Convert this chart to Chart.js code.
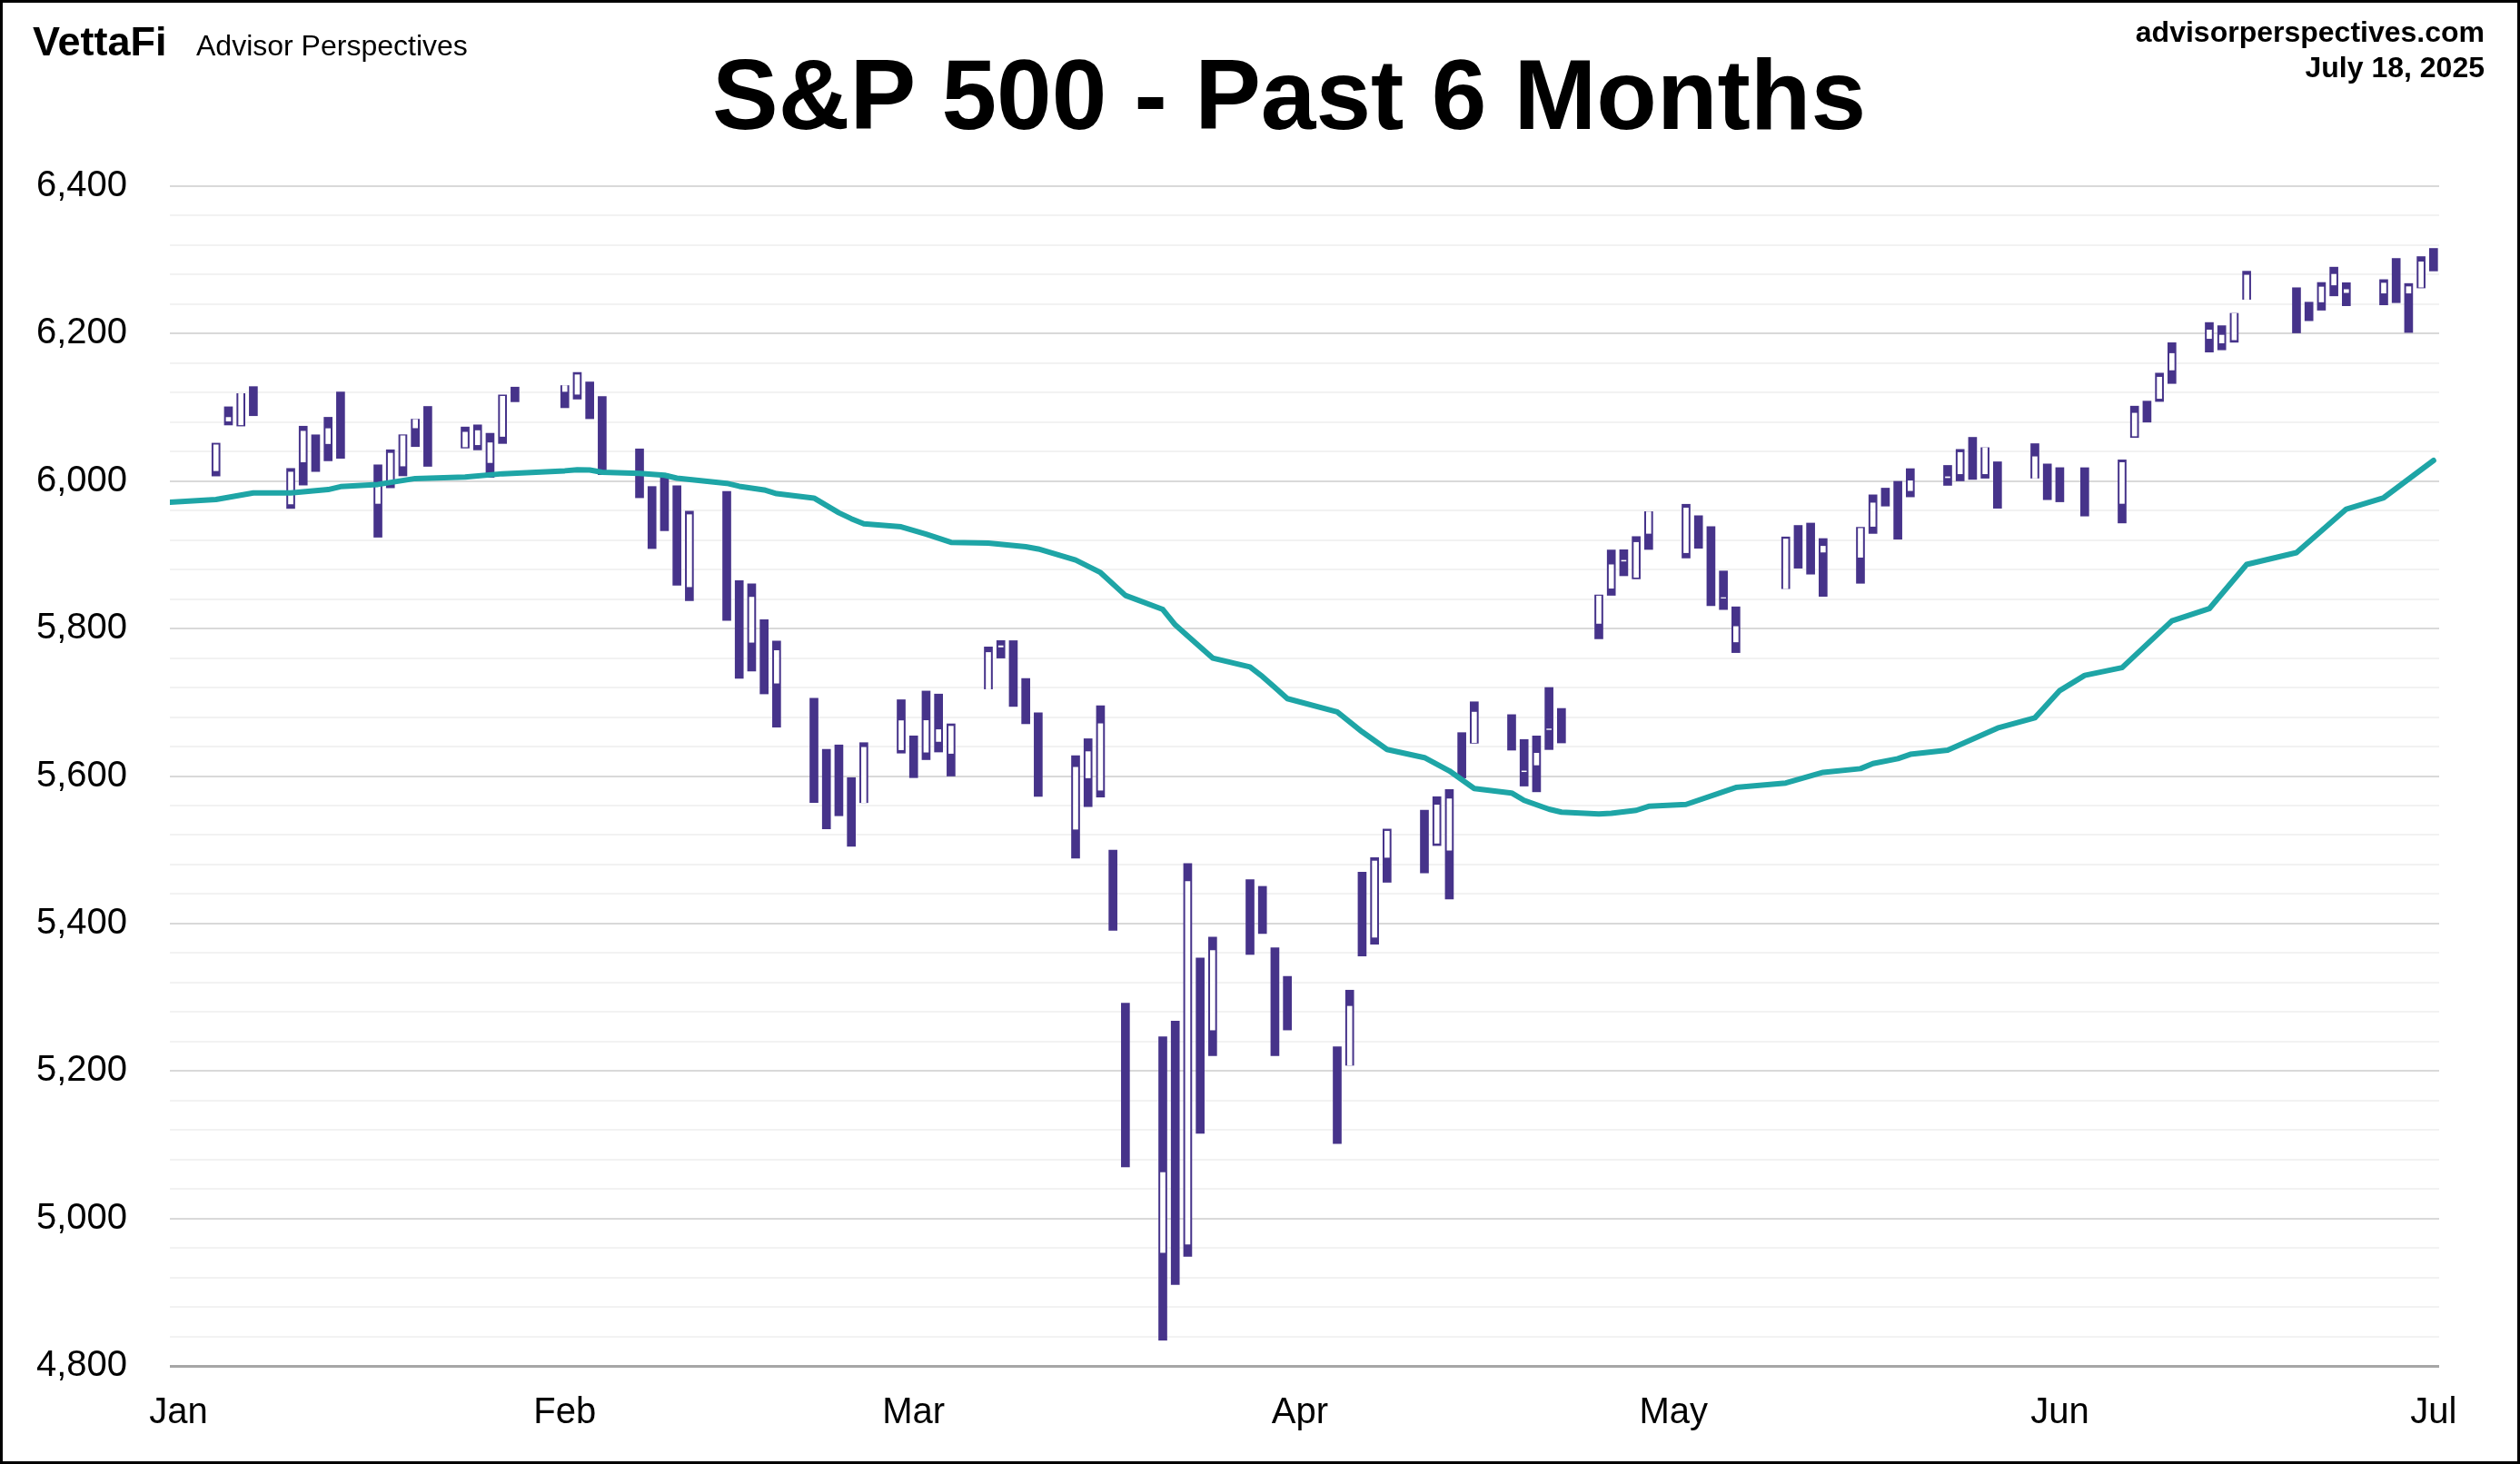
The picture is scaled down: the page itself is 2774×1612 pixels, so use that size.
<!DOCTYPE html>
<html>
<head>
<meta charset="utf-8">
<script src="https://cdn.jsdelivr.net/npm/chart.js@4.4.1/dist/chart.umd.min.js"></script>
<style>
  body { margin: 0; background: #fff; font-family: "Liberation Sans", Arial, sans-serif; }
  #wrap { position: relative; width: 2774px; height: 1612px; }
  #chart { position: absolute; left: 0; top: 0; }
  #frame { position: absolute; left: 0; top: 0; width: 2774px; height: 1612px; box-sizing: border-box;
           border: 3px solid #000; pointer-events: none; }
  .txt { position: absolute; white-space: nowrap; color: #000; }
  #logo { left: 36px; top: 23px; font-size: 45px; line-height: 45px; font-weight: bold; letter-spacing: 0; }
  #brand { left: 216px; top: 34px; font-size: 32px; line-height: 32px; }
  #title { left: 0; width: 2838px; text-align: center; top: 50px; font-size: 109px; line-height: 109px; font-weight: bold; }
  #site { right: 39px; top: 19px; font-size: 32px; line-height: 32px; font-weight: bold; text-align: right; }
  #date { right: 39px; top: 58px; font-size: 32px; line-height: 32px; font-weight: bold; text-align: right; }
</style>
</head>
<body>
<div id="wrap">
  <canvas id="chart" width="2774" height="1612"></canvas>
  <div class="txt" id="logo">VettaFi</div>
  <div class="txt" id="brand">Advisor Perspectives</div>
  <div class="txt" id="title">S&amp;P 500 - Past 6 Months</div>
  <div class="txt" id="site">advisorperspectives.com</div>
  <div class="txt" id="date">July 18, 2025</div>
  <div id="frame"></div>
</div>
<script>
// Daily S&P 500 bars
const dates = [
  '2025-01-21','2025-01-22','2025-01-23','2025-01-24','2025-01-27','2025-01-28','2025-01-29','2025-01-30','2025-01-31',
  '2025-02-03','2025-02-04','2025-02-05','2025-02-06','2025-02-07','2025-02-10','2025-02-11','2025-02-12','2025-02-13','2025-02-14',
  '2025-02-18','2025-02-19','2025-02-20','2025-02-21','2025-02-24','2025-02-25','2025-02-26','2025-02-27','2025-02-28',
  '2025-03-03','2025-03-04','2025-03-05','2025-03-06','2025-03-07','2025-03-10','2025-03-11','2025-03-12','2025-03-13','2025-03-14',
  '2025-03-17','2025-03-18','2025-03-19','2025-03-20','2025-03-21','2025-03-24','2025-03-25','2025-03-26','2025-03-27','2025-03-28',
  '2025-03-31','2025-04-01','2025-04-02','2025-04-03','2025-04-04','2025-04-07','2025-04-08','2025-04-09','2025-04-10','2025-04-11',
  '2025-04-14','2025-04-15','2025-04-16','2025-04-17','2025-04-21','2025-04-22','2025-04-23','2025-04-24','2025-04-25',
  '2025-04-28','2025-04-29','2025-04-30','2025-05-01','2025-05-02','2025-05-05','2025-05-06','2025-05-07','2025-05-08','2025-05-09',
  '2025-05-12','2025-05-13','2025-05-14','2025-05-15','2025-05-16','2025-05-19','2025-05-20','2025-05-21','2025-05-22','2025-05-23',
  '2025-05-27','2025-05-28','2025-05-29','2025-05-30','2025-06-02','2025-06-03','2025-06-04','2025-06-05','2025-06-06',
  '2025-06-09','2025-06-10','2025-06-11','2025-06-12','2025-06-13','2025-06-16','2025-06-17','2025-06-18','2025-06-20',
  '2025-06-23','2025-06-24','2025-06-25','2025-06-26','2025-06-27','2025-06-30','2025-07-01','2025-07-02','2025-07-03',
  '2025-07-07','2025-07-08','2025-07-09','2025-07-10','2025-07-11','2025-07-14','2025-07-15','2025-07-16','2025-07-17','2025-07-18'
];
const opens = [
  6014.1,6081.4,6076.3,6121.4,5969.0,6026.0,6057.7,6050.8,6096.8,
  5969.7,5998.1,6020.5,6072.2,6083.1,6046.4,6049.3,6025.1,6060.6,6115.5,
  6121.6,6117.8,6134.5,6114.1,6026.7,5982.7,5970.9,5981.9,5856.7,
  5968.3,5812.0,5781.4,5785.9,5726.0,5705.4,5603.7,5624.8,5594.5,5563.9,
  5635.6,5654.5,5632.4,5646.9,5630.7,5718.1,5775.0,5771.7,5695.6,5679.3,
  5527.9,5597.5,5580.8,5492.9,5292.1,4953.8,5193.6,4965.3,5353.2,5255.6,
  5442.0,5412.0,5335.8,5305.5,5232.9,5207.7,5395.9,5381.4,5489.7,
  5529.2,5508.9,5499.4,5625.1,5645.4,5665.7,5605.9,5615.0,5663.0,5679.6,
  5807.0,5854.7,5891.5,5869.5,5929.1,5902.9,5944.7,5927.2,5841.3,5781.9,
  5854.1,5925.5,5940.0,5903.7,5896.7,5938.6,5978.1,5985.7,5987.1,
  6004.6,6009.9,6049.4,6009.9,6000.6,6004.0,6012.2,5987.9,6004.2,
  5969.7,6061.2,6104.2,6112.1,6150.7,6193.4,6187.3,6191.6,6246.5,
  6259.8,6233.0,6243.0,6266.0,6255.7,6255.0,6295.0,6255.0,6263.0,6313.0
];
const highs = [
  6051.5,6100.8,6118.7,6128.2,6017.2,6074.5,6062.8,6086.6,6120.9,
  6022.1,6042.5,6062.9,6084.0,6101.3,6073.4,6076.3,6064.9,6116.9,6127.5,
  6129.6,6147.4,6134.5,6114.8,6043.7,5992.7,6009.8,5993.7,5959.4,
  5986.1,5865.1,5860.6,5812.1,5783.0,5705.4,5636.3,5642.2,5597.8,5645.3,
  5703.5,5654.5,5715.3,5711.2,5670.8,5775.1,5783.7,5783.6,5732.3,5685.9,
  5627.6,5650.6,5695.3,5499.5,5292.1,5246.4,5267.5,5481.3,5353.2,5381.5,
  5459.5,5450.4,5367.2,5328.3,5232.9,5309.6,5469.7,5489.4,5528.1,
  5553.7,5572.0,5581.8,5658.9,5700.7,5683.3,5649.6,5654.4,5720.1,5691.7,
  5845.6,5906.6,5906.9,5924.8,5958.6,5968.6,5953.1,5938.4,5878.1,5829.5,
  5924.3,5939.9,5943.1,5922.1,5937.4,5981.4,5990.5,5999.7,6016.9,
  6021.3,6043.0,6059.4,6045.4,6026.2,6050.8,6023.3,6018.3,6018.2,
  6028.8,6101.7,6108.5,6146.5,6187.7,6215.1,6210.8,6227.6,6284.7,
  6262.3,6242.7,6269.4,6290.2,6269.1,6273.3,6302.0,6268.0,6304.5,6315.6
];
const lows = [
  6006.9,6076.1,6074.7,6088.7,5962.9,5994.6,6013.0,6027.5,6030.9,
  5923.9,5990.9,6007.1,6046.8,6020.0,6044.8,6042.3,6005.0,6051.0,6107.6,
  6099.5,6111.2,6084.6,6008.6,5977.4,5908.5,5932.7,5858.8,5837.7,
  5810.9,5732.6,5742.4,5711.4,5666.3,5564.0,5528.4,5546.1,5504.7,5563.9,
  5631.1,5597.8,5622.2,5632.6,5600.0,5718.1,5760.0,5694.4,5670.9,5572.4,
  5488.7,5558.5,5571.5,5390.8,5069.9,4835.0,4910.4,4948.4,5115.3,5220.8,
  5358.0,5386.4,5220.8,5255.6,5101.6,5207.7,5356.0,5372.0,5455.9,
  5468.6,5505.7,5433.2,5597.4,5644.5,5635.1,5586.4,5578.6,5635.9,5644.9,
  5786.1,5845.1,5871.6,5867.4,5907.3,5895.7,5908.9,5830.9,5825.8,5767.4,
  5854.1,5881.9,5873.8,5843.7,5861.4,5929.0,5966.1,5921.2,5978.6,
  5994.2,6000.3,6002.3,6003.9,5963.2,6004.0,5974.8,5971.9,5952.6,
  5943.2,6059.1,6080.0,6108.0,6132.4,6175.0,6178.0,6188.3,6246.5,
  6201.0,6217.5,6231.8,6251.2,6237.8,6239.0,6242.0,6201.6,6262.0,6285.0
];
const closes = [
  6049.2,6086.4,6118.7,6101.2,6012.3,6067.7,6039.3,6071.2,6040.5,
  5994.6,6037.9,6061.5,6083.6,6026.0,6066.4,6068.5,6052.0,6115.1,6114.6,
  6129.6,6144.2,6117.5,6013.1,5983.3,5955.3,5956.1,5861.6,5954.5,
  5849.7,5778.2,5842.6,5738.5,5770.2,5614.6,5572.1,5599.3,5521.5,5638.9,
  5675.1,5614.7,5675.3,5662.9,5667.6,5767.6,5776.7,5712.2,5693.3,5580.9,
  5611.9,5633.1,5671.0,5396.5,5074.1,5062.3,4982.8,5456.9,5268.1,5363.4,
  5406.0,5396.6,5275.7,5282.7,5158.2,5287.8,5375.9,5484.8,5525.2,
  5528.8,5560.8,5569.1,5604.1,5686.7,5650.4,5606.9,5631.0,5663.9,5659.9,
  5844.2,5886.6,5892.6,5916.9,5958.4,5963.6,5940.5,5844.6,5842.0,5802.8,
  5921.5,5888.6,5912.2,5911.7,5935.9,5970.4,5970.8,5939.3,6000.4,
  6005.9,6038.8,6022.2,6045.3,5977.0,6033.1,5982.7,5980.9,5967.8,
  6025.2,6092.2,6092.2,6141.0,6173.1,6205.0,6198.0,6227.4,6279.4,
  6230.0,6225.5,6263.3,6280.5,6259.8,6268.6,6243.8,6263.7,6297.4,6296.8
];

// Moving average line (vertices)
const maDates = [
  '2025-01-17','2025-01-21','2025-01-24','2025-01-27','2025-01-30','2025-01-31','2025-02-03','2025-02-06','2025-02-10','2025-02-13',
  '2025-02-18','2025-02-19','2025-02-20','2025-02-21','2025-02-24','2025-02-26','2025-02-27','2025-03-03','2025-03-04','2025-03-06',
  '2025-03-07','2025-03-10','2025-03-12','2025-03-13','2025-03-14','2025-03-17','2025-03-19','2025-03-21','2025-03-24','2025-03-27',
  '2025-03-28','2025-03-31','2025-04-02','2025-04-04','2025-04-07','2025-04-08','2025-04-09','2025-04-11','2025-04-14','2025-04-15',
  '2025-04-16','2025-04-17','2025-04-21','2025-04-23','2025-04-25','2025-04-28','2025-04-30','2025-05-02','2025-05-05','2025-05-06',
  '2025-05-08','2025-05-09','2025-05-12','2025-05-13','2025-05-15','2025-05-16','2025-05-19','2025-05-23','2025-05-27','2025-05-30',
  '2025-06-02','2025-06-03','2025-06-05','2025-06-06','2025-06-09','2025-06-13','2025-06-16','2025-06-18','2025-06-20','2025-06-23',
  '2025-06-27','2025-06-30','2025-07-03','2025-07-07','2025-07-11','2025-07-14','2025-07-18'
];
const maValues = [
  5971,5975,5984,5984,5988.5,5992.5,5995.5,6003.5,6005.5,6010,
  6014,6015.5,6015,6012,6010.5,6008,6004,5997,5993,5988,
  5983,5977,5957,5949,5942,5938,5928,5917,5916,5911,
  5908,5893,5876,5845,5826,5805,5790,5760,5748,5735,
  5720,5705,5687,5660,5636,5625,5607,5583,5577,5567,
  5555,5551,5548.5,5549.5,5553.5,5559,5561.5,5584.5,5590.5,5605,
  5610,5617,5623.5,5629.5,5635,5665,5679,5716,5736.5,5747,
  5810.5,5827,5887,5903,5962,5977.5,6028
];

// Axis labels
const monthTicks = [0, 31, 59, 90, 120, 151, 181];
const monthLabels = ['Jan', 'Feb', 'Mar', 'Apr', 'May', 'Jun', 'Jul'];

const START = Date.UTC(2025, 0, 18);
function dayOf(s) {
  const [y, m, d] = s.split('-').map(Number);
  return (Date.UTC(y, m - 1, d) - START) / 86400000;
}

const PURPLE = '#46338a';
const TEAL = '#1ea5a6';

const rangeData = dates.map((s, i) => ({ x: dayOf(s), y: [lows[i], highs[i]] }));
// hollow body only for up days
const bodyData = dates
  .map((s, i) => (closes[i] >= opens[i] ? { x: dayOf(s), y: [opens[i], closes[i]] } : null))
  .filter((p) => p !== null);
const maData = maDates.map((s, i) => ({ x: dayOf(s), y: maValues[i] }));

const ctx = document.getElementById('chart').getContext('2d');
new Chart(ctx, {
  data: {
    datasets: [
      {
        type: 'line',
        data: maData,
        borderColor: TEAL,
        borderWidth: 6,
        pointRadius: 0,
        tension: 0,
        borderJoinStyle: 'round',
        borderCapStyle: 'round',
        order: 0,
      },
      {
        type: 'bar',
        data: bodyData,
        backgroundColor: '#ffffff',
        borderWidth: 0,
        barThickness: 5,
        grouped: false,
        order: 1,
      },
      {
        type: 'bar',
        data: rangeData,
        backgroundColor: PURPLE,
        borderWidth: 0,
        barThickness: 9,
        grouped: false,
        order: 2,
      },
    ],
  },
  options: {
    responsive: false,
    animation: false,
    devicePixelRatio: 1,
    layout: { padding: { top: 205, right: 89, left: 0, bottom: 0 } },
    plugins: { legend: { display: false }, tooltip: { enabled: false } },
    scales: {
      x: {
        type: 'linear',
        offset: false,
        min: -0.7,
        max: 181.45,
        afterBuildTicks: (scale) => { scale.ticks = monthTicks.map((v) => ({ value: v })); },
        afterFit: (scale) => { scale.height = 108; },
        grid: { display: false, drawTicks: false, offset: false },
        border: { display: false },
        ticks: {
          autoSkip: false,
          maxRotation: 0,
          padding: 28,
          color: '#000',
          font: { family: '"Liberation Sans", Arial, sans-serif', size: 40 },
          callback: (v) => monthLabels[monthTicks.indexOf(v)] ?? '',
        },
      },
      y: {
        type: 'linear',
        min: 4800,
        max: 6400,
        afterFit: (scale) => { scale.width = 187; },
        grid: {
          drawTicks: false,
          lineWidth: (c) => (c.tick && c.tick.value === 4800 ? 3 : 2),
          color: (c) => {
            const v = c.tick ? c.tick.value : 0;
            if (v === 4800) return '#a6a6a6';
            return v % 200 === 0 ? '#d9d9d9' : '#f2f2f2';
          },
        },
        border: { display: false },
        ticks: {
          stepSize: 40,
          autoSkip: false,
          padding: 47,
          color: '#000',
          font: { family: '"Liberation Sans", Arial, sans-serif', size: 40 },
          callback: (v) => (v % 200 === 0 ? v.toLocaleString('en-US') : ''),
        },
      },
    },
  },
});
</script>
</body>
</html>
